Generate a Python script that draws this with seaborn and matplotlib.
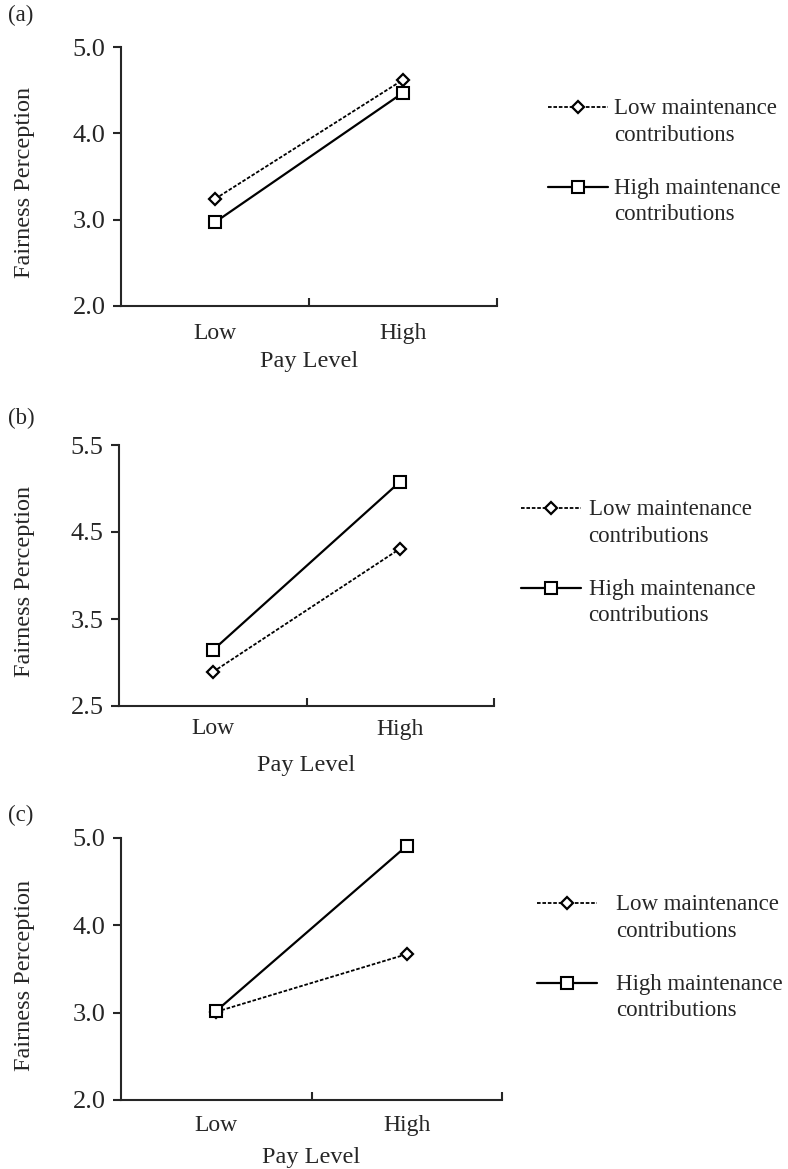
import numpy as np
import pandas as pd
import matplotlib.pyplot as plt
import seaborn as sns
from matplotlib.lines import Line2D
from matplotlib.legend_handler import HandlerLine2D

# werte
pay_levels = ['Low', 'High']
groups = ['Low maintenance\ncontributions', 'High maintenance\ncontributions']

a_low_maint = [3.24, 4.62]
a_high_maint = [2.97, 4.47]
b_low_maint = [2.89, 4.31]
b_high_maint = [3.14, 5.08]
c_low_maint = [3.01, 3.67]
c_high_maint = [3.02, 4.91]

panel_names = ['(a)', '(b)', '(c)']
yticks_a = [2.0, 3.0, 4.0, 5.0]
yticks_b = [2.5, 3.5, 4.5, 5.5]
yticks_c = [2.0, 3.0, 4.0, 5.0]


# legendensymbol auf hoehe der ersten textzeile
class RaisedLine(HandlerLine2D):
    def create_artists(self, legend, orig_handle, xdescent, ydescent,
                       width, height, fontsize, trans):
        arts = super().create_artists(legend, orig_handle, xdescent, ydescent,
                                      width, height, fontsize, trans)
        for a in arts:
            a.set_ydata(np.asarray(a.get_ydata()) + 0.65 * fontsize)
        return arts


sns.set_style('ticks')
plt.rcParams['font.family'] = ['Liberation Serif', 'DejaVu Serif']
plt.rcParams['axes.linewidth'] = 1.5

fig = plt.figure(figsize=(7.88, 11.69), dpi=100)

# achsen-positionen in pixeln (links, oben, rechts, unten)
boxes = [[121, 47, 497, 306], [119, 445, 494, 706], [121, 838, 502, 1100]]
legend_pos = [[548, 98, 0.3], [521, 499, 0.35], [537, 894, 0.85]]
label_y = [15, 418, 815]
tick_pad = [12, 9, 11]
xlab_pad = [5, 11, 8]

panels = [(a_low_maint, a_high_maint, yticks_a),
          (b_low_maint, b_high_maint, yticks_b),
          (c_low_maint, c_high_maint, yticks_c)]

W, H = 788, 1169
for i, (low, high, yt) in enumerate(panels):
    x0, y0, x1, y1 = boxes[i]
    ax = fig.add_axes([x0 / W, 1 - y1 / H, (x1 - x0) / W, (y1 - y0) / H])

    df = pd.DataFrame({'pay': pay_levels * 2,
                       'fair': low + high,
                       'group': [groups[0]] * 2 + [groups[1]] * 2})

    sns.lineplot(data=df[df.group == groups[0]], x='pay', y='fair', ax=ax,
                 color='black', lw=1.3, dashes=(2, 1), marker='D', markersize=6.5,
                 markerfacecolor='white', markeredgecolor='black', markeredgewidth=1.6)
    sns.lineplot(data=df[df.group == groups[1]], x='pay', y='fair', ax=ax,
                 color='black', lw=1.6, marker='s', markersize=9,
                 markerfacecolor='white', markeredgecolor='black', markeredgewidth=1.5)

    ax.set_xlim(-0.5, 1.5)
    ax.set_ylim(yt[0], yt[-1])
    ax.set_yticks(yt)
    ax.set_yticklabels(['%.1f' % v for v in yt])
    ax.set_xticks([0, 1])
    ax.set_xticklabels(pay_levels)
    ax.set_xticks([0.5, 1.5], minor=True)
    ax.tick_params(axis='x', which='major', length=0, pad=tick_pad[i], labelsize=17)
    ax.tick_params(axis='x', which='minor', direction='in', length=6, width=1.5)
    ax.tick_params(axis='y', direction='out', length=6, width=1.5, pad=5, labelsize=19)
    ax.set_xlabel('Pay Level', fontsize=17.5, labelpad=xlab_pad[i])
    ax.set_ylabel('Fairness Perception', fontsize=17.5)
    ax.yaxis.set_label_coords((35 - x0) / (x1 - x0), 0.5 - 6 / (y1 - y0))
    sns.despine(ax=ax)

    lx, ly, tpad = legend_pos[i]
    leg = ax.legend(handles=ax.lines[:2], labels=groups, loc='upper left',
                    bbox_to_anchor=(lx / W, 1 - ly / H), bbox_transform=fig.transFigure,
                    frameon=False, fontsize=16.5, handlelength=2.6, handletextpad=tpad,
                    labelspacing=1.4, borderpad=0, borderaxespad=0,
                    handler_map={Line2D: RaisedLine()})
    for t in leg.get_texts():
        t.set_linespacing(1.35)

    fig.text(8 / W, 1 - label_y[i] / H, panel_names[i], fontsize=16.5, va='center')

fig.savefig('out.png', dpi=100)
